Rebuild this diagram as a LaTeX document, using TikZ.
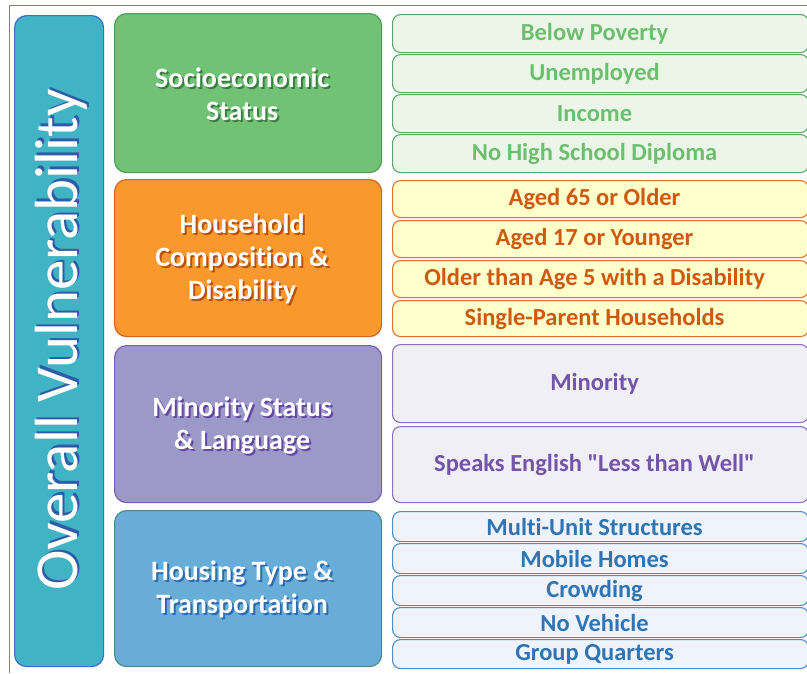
\documentclass[tikz,border=0pt]{standalone}
\usepackage{fontspec}
\setmainfont{Carlito}[Ligatures={TeXOff,NoCommon}]
\begin{document}
\begin{tikzpicture}[x=1pt,y=-1pt]
\definecolor{frameC}{HTML}{8C8170}
\definecolor{ovF}{HTML}{40B4C4}\definecolor{ovD}{HTML}{3F6FC0}\definecolor{ovS}{HTML}{2D5DA8}
\definecolor{gF}{HTML}{72C275}\definecolor{gD}{HTML}{4F9C5A}\definecolor{gS}{HTML}{3A7E44}
\definecolor{oF}{HTML}{F9982C}\definecolor{oD}{HTML}{D5661E}\definecolor{oS}{HTML}{B8520E}
\definecolor{pF}{HTML}{9C99C9}\definecolor{pD}{HTML}{7A5EB0}\definecolor{pS}{HTML}{6548A0}
\definecolor{bF}{HTML}{68ADD7}\definecolor{bD}{HTML}{4A8C88}\definecolor{bS}{HTML}{2F6BB0}
\definecolor{giF}{HTML}{EBF6E9}\definecolor{giD}{HTML}{5AA86A}\definecolor{giT}{HTML}{6DBF6F}
\definecolor{oiF}{HTML}{FFFFCC}\definecolor{oiD}{HTML}{E0732A}\definecolor{oiT}{HTML}{D0580F}
\definecolor{piF}{HTML}{F0EFF6}\definecolor{piD}{HTML}{8A70BC}\definecolor{piT}{HTML}{7254AA}
\definecolor{biF}{HTML}{EEF3FC}\definecolor{biD}{HTML}{4F8CCB}\definecolor{biT}{HTML}{2F75B5}
\newcommand{\shtxt}[3]{\makebox[0pt][l]{\hspace{#3}\raisebox{-#3}{\textcolor{#1}{#2}}}#2}
\tikzset{
  bigbox/.style={draw, line width=1.2pt, rounded corners=12pt, anchor=north west, inner sep=0pt},
  catbox/.style={bigbox, minimum width=267pt},
  itembox/.style={draw, line width=1.1pt, rounded corners=8pt, anchor=north west, inner sep=0pt,
     minimum width=416pt, font=\fontsize{24.5}{28}\selectfont\bfseries,
     execute at begin node=\hspace*{-12pt}},
  cattext/.style={align=center, text=white, font=\fontsize{28}{33}\selectfont\bfseries},
}
\useasboundingbox (0,0) rectangle (807,673);
\fill[white] (0,0) rectangle (807,673);
\draw[frameC, line width=0.8pt] (9,673) -- (9,5) -- (807,5);

% left column
\node[bigbox, draw=ovD, fill=ovF, minimum width=89pt, minimum height=651pt] (ov) at (14,15) {};
\node[rotate=90, text=white, font=\fontsize{61}{66}\selectfont] (ovt) at (62,340) {\shtxt{ovS}{Overall Vulnerability}{2.5pt}};

% categories
\node[catbox, draw=gD, fill=gF, minimum height=159pt] (c1) at (114,13) {};
\node[catbox, draw=oD, fill=oF, minimum height=157pt] (c2) at (114,179) {};
\node[catbox, draw=pD, fill=pF, minimum height=157pt] (c3) at (114,345) {};
\node[catbox, draw=bD, fill=bF, minimum height=156pt] (c4) at (114,510) {};

\node[cattext] (c1t) at ([xshift=-6pt,yshift=-2pt]c1.center) {\shtxt{gS}{Socioeconomic}{2pt}\\\shtxt{gS}{Status}{2pt}};
\node[cattext] (c2t) at ([xshift=-6pt,yshift=-2pt]c2.center) {\shtxt{oS}{Household}{2pt}\\\shtxt{oS}{Composition \&}{2pt}\\\shtxt{oS}{Disability}{2pt}};
\node[cattext] (c3t) at ([xshift=-6pt,yshift=-2pt]c3.center) {\shtxt{pS}{Minority Status}{2pt}\\\shtxt{pS}{\& Language}{2pt}};
\node[cattext] (c4t) at ([xshift=-6pt,yshift=-2pt]c4.center) {\shtxt{bS}{Housing Type \&}{2pt}\\\shtxt{bS}{Transportation}{2pt}};

% green items
\node[itembox, draw=giD, fill=giF, text=giT, minimum height=38pt] (g1) at (392,14) {Below Poverty};
\node[itembox, draw=giD, fill=giF, text=giT, minimum height=38pt] (g2) at (392,54) {Unemployed};
\node[itembox, draw=giD, fill=giF, text=giT, minimum height=38pt] (g3) at (392,94) {Income};
\node[itembox, draw=giD, fill=giF, text=giT, minimum height=38pt] (g4) at (392,134) {No High School Diploma};
% orange items
\node[itembox, draw=oiD, fill=oiF, text=oiT, minimum height=37pt] (o1) at (392,180) {Aged 65 or Older};
\node[itembox, draw=oiD, fill=oiF, text=oiT, minimum height=37pt] (o2) at (392,220) {Aged 17 or Younger};
\node[itembox, draw=oiD, fill=oiF, text=oiT, minimum height=37pt] (o3) at (392,260) {Older than Age 5 with a Disability};
\node[itembox, draw=oiD, fill=oiF, text=oiT, minimum height=36pt] (o4) at (392,300) {Single-Parent Households};
% purple items
\node[itembox, draw=piD, fill=piF, text=piT, minimum height=78pt] (p1) at (392,344) {Minority};
\node[itembox, draw=piD, fill=piF, text=piT, minimum height=76pt] (p2) at (392,426) {Speaks English "Less than Well"};
% blue items
\node[itembox, draw=biD, fill=biF, text=biT, minimum height=30pt] (b1) at (392,511) {Multi-Unit Structures};
\node[itembox, draw=biD, fill=biF, text=biT, minimum height=30pt] (b2) at (392,543) {Mobile Homes};
\node[itembox, draw=biD, fill=biF, text=biT, minimum height=30pt] (b3) at (392,575) {Crowding};
\node[itembox, draw=biD, fill=biF, text=biT, minimum height=30pt] (b4) at (392,607) {No Vehicle};
\node[itembox, draw=biD, fill=biF, text=biT, minimum height=29pt] (b5) at (392,639) {Group Quarters};
\end{tikzpicture}
\end{document}
